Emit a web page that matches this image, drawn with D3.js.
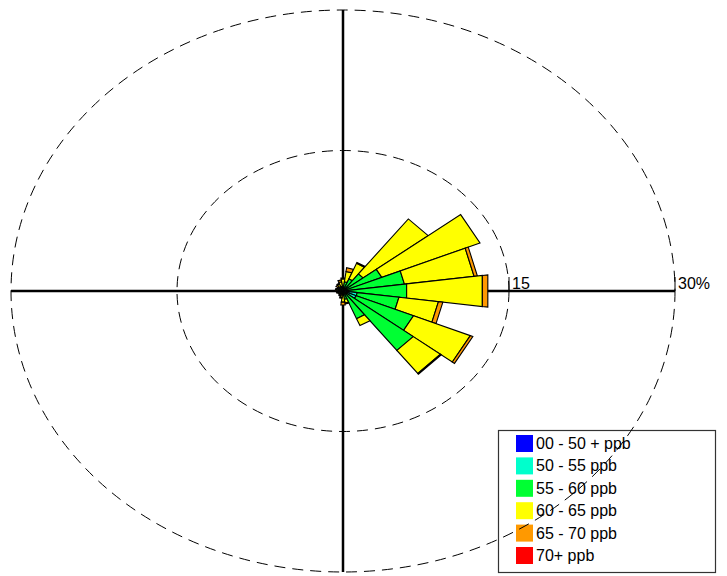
<!DOCTYPE html>
<html>
<head>
<meta charset="utf-8">
<script src="https://cdn.jsdelivr.net/npm/d3@7"></script>
<style>
  html, body { margin: 0; padding: 0; background: #fff; }
  svg { display: block; }
  text { font-family: "Liberation Sans", Arial, sans-serif; }
</style>
</head>
<body>
<svg id="chart" width="727" height="576"></svg>
<script>
// Wind direction bins (compass degrees, 15-degree sectors)
const directions = [0,15,30,45,60,75,90,105,120,135,150,165,180,195,210,225,240,255,270,285,300,315,330,345];
// Concentration bands (labels and colours)
const bands = ["00 - 50 + ppb", "50 - 55 ppb", "55 - 60 ppb", "60 - 65 ppb", "65 - 70 ppb", "70+ ppb"];
const bandColors = ["#0000ff", "#00ffcc", "#00ff33", "#ffff00", "#ff9900", "#ff0000"];
// Frequency (%) per direction for each band
const band00_50 = [0.1,0.1,0.1,0.1,0.1,0.1,0.1,0.1,0.1,0.1,0.1,0.1,0.1,0.1,0.1,0.1,0.1,0.1,0.1,0.1,0.1,0.1,0.1,0.1];
const band50_55 = [0.1,0.1,0.1,0.2,0.2,0.3,0.4,1.2,1.2,0.3,0.2,0.2,0.1,0.1,0.1,0.1,0.1,0.1,0.1,0.1,0.1,0.1,0.1,0.1];
const band55_60 = [0.4,0.8,1.2,2.0,3.5,5.2,5.3,3.8,5.6,7.6,2.9,0.6,0.3,0.2,0.1,0.1,0.1,0.1,0.1,0.2,0.1,0.2,0.3,0.3];
const band60_65 = [0.7,1.1,1.8,7.4,9.6,6.35,6.9,3.6,5.55,3.1,0.8,0.4,0.7,0.3,0.2,0.2,0.2,0.2,0.2,0.2,0.2,0.2,0.3,0.5];
const band65_70 = [0.1,0.4,0.1,0.0,0.0,0.3,0.5,0.4,0.25,0.1,0.0,0.1,0.3,0.1,0.1,0.0,0.0,0.1,0.1,0.1,0.1,0.2,0.1,0.2];
const band70p   = [0,0,0,0,0,0,0,0,0,0,0,0,0,0,0,0,0,0,0,0,0,0,0,0];
const bandValues = [band00_50, band50_55, band55_60, band60_65, band65_70, band70p];
// Radial rings and labels
const rings = [15, 30];
const ringLabels = ["15", "30%"];
const maxR = 30;
const sectorWidth = 15;

const svg = d3.select("#chart");
const x = d3.scaleLinear().domain([-maxR, maxR]).range([11, 675]);
const y = d3.scaleLinear().domain([-maxR, maxR]).range([572, 10]);
const cx = x(0), cy = y(0);

// point at radius r (%) and compass angle a (deg)
function pt(r, a) {
  const rad = a * Math.PI / 180;
  return [x(r * Math.sin(rad)), y(r * Math.cos(rad))];
}

// Legend (drawn first, rings pass over it)
const legend = svg.append("g");
legend.append("rect")
  .attr("x", 498.5).attr("y", 430.5).attr("width", 217).attr("height", 142)
  .attr("fill", "#fff").attr("stroke", "#333").attr("stroke-width", 1.2);
bands.forEach((b, i) => {
  const yy = 435 + i * 22.4;
  legend.append("rect").attr("x", 516).attr("y", yy).attr("width", 17).attr("height", 17)
    .attr("fill", bandColors[i]);
  legend.append("text").attr("x", 536).attr("y", yy + 14)
    .attr("font-size", 16).attr("fill", "#000").text(b);
});

// Dashed rings
rings.forEach(r => {
  svg.append("ellipse")
    .attr("cx", cx).attr("cy", cy)
    .attr("rx", x(r) - cx).attr("ry", cy - y(r))
    .attr("fill", "none").attr("stroke", "#000").attr("stroke-width", 1)
    .attr("stroke-dasharray", "11,7");
});

// Axes
svg.append("line").attr("x1", x(-maxR)).attr("x2", x(maxR)).attr("y1", cy).attr("y2", cy)
  .attr("stroke", "#000").attr("stroke-width", 2.5);
svg.append("line").attr("x1", cx).attr("x2", cx).attr("y1", y(maxR)).attr("y2", y(-maxR))
  .attr("stroke", "#000").attr("stroke-width", 2.5);

// Ring ticks and labels
rings.forEach((r, i) => {
  svg.append("line").attr("x1", x(r)).attr("x2", x(r)).attr("y1", cy - 14).attr("y2", cy)
    .attr("stroke", "#000").attr("stroke-width", 1);
  svg.append("text").attr("x", x(r) + 3).attr("y", cy - 2)
    .attr("font-size", 16).attr("fill", "#000").text(ringLabels[i]);
});

// Stacked sectors
const line = d3.line();
const gBars = svg.append("g");
directions.forEach((dir, di) => {
  let r0 = 0;
  bandValues.forEach((vals, bi) => {
    const v = vals[di];
    if (v <= 0) return;
    const r1 = r0 + v;
    const a0 = dir - sectorWidth / 2, a1 = dir + sectorWidth / 2;
    const pts = r0 === 0
      ? [pt(0, 0), pt(r1, a0), pt(r1, a1)]
      : [pt(r0, a0), pt(r1, a0), pt(r1, a1), pt(r0, a1)];
    gBars.append("path")
      .attr("d", line(pts) + "Z")
      .attr("fill", bandColors[bi])
      .attr("stroke", "#000").attr("stroke-width", 1.1)
      .attr("stroke-linejoin", "miter");
    r0 = r1;
  });
});
</script>
</body>
</html>
